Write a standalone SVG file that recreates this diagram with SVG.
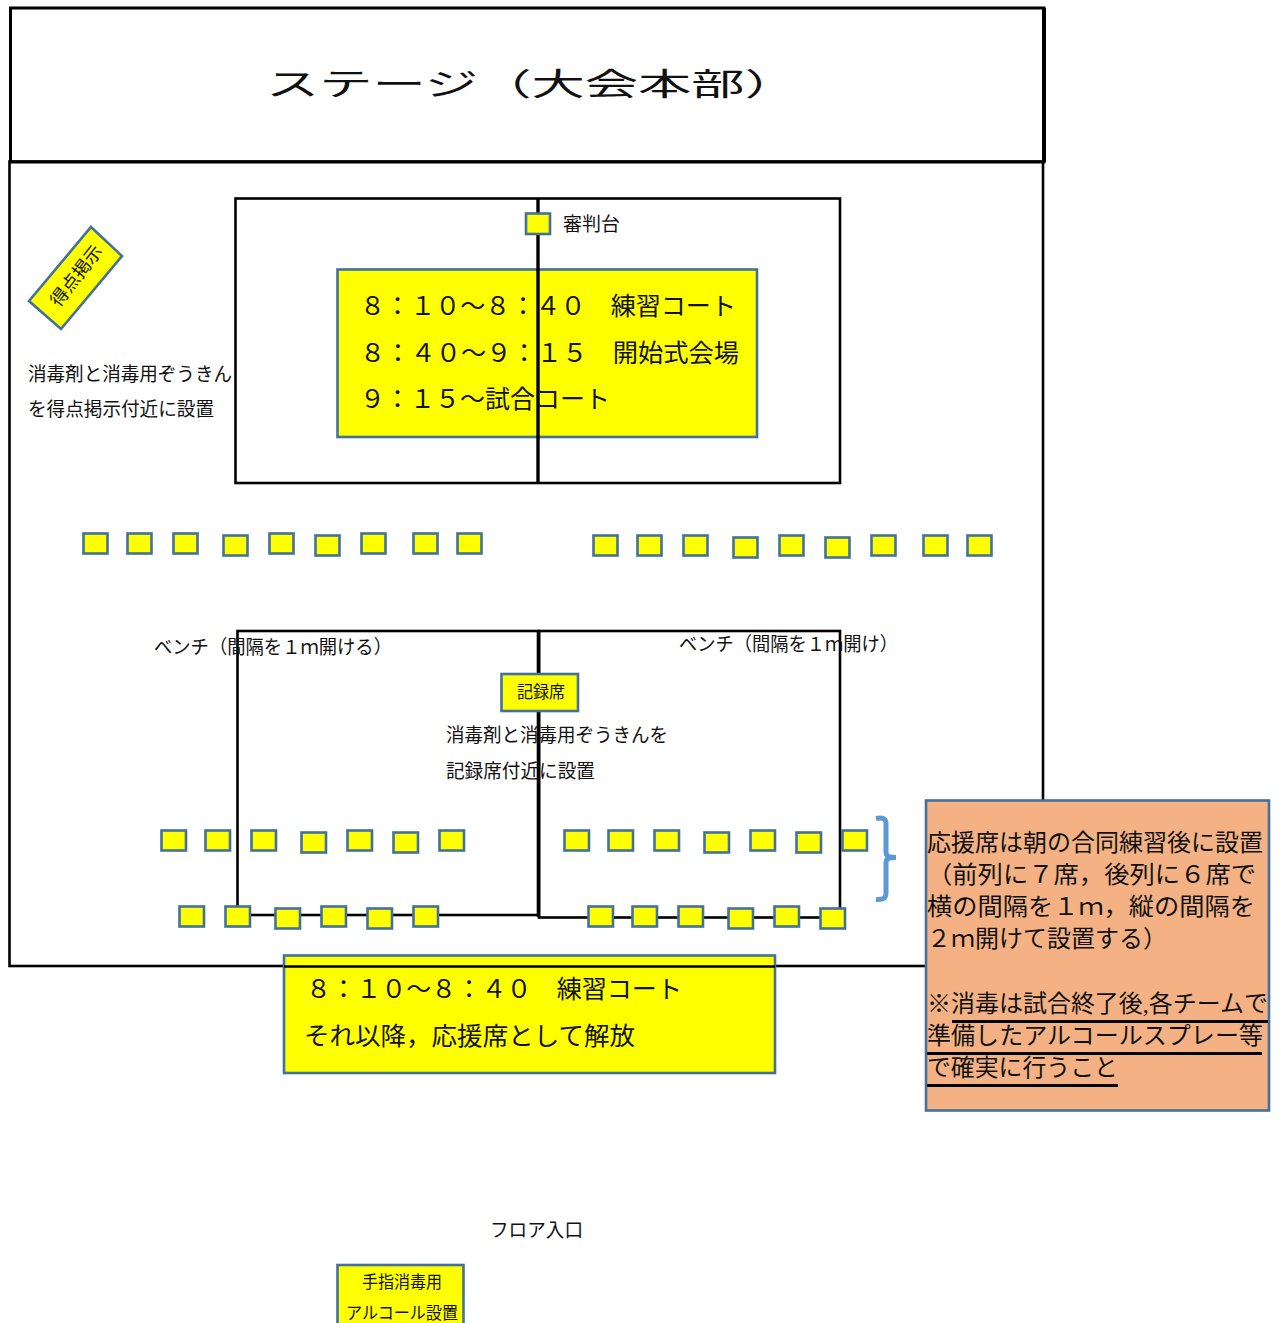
<svg xmlns="http://www.w3.org/2000/svg" width="1282" height="1323" viewBox="0 0 1282 1323">
<style>
text{font-family:"Liberation Serif","Noto Sans CJK JP",serif;fill:#111}
.ln{fill:none;stroke:#000;stroke-width:2.6}
.th{fill:none;stroke:#000;stroke-width:3}
.y{fill:#ff0;stroke:#41719c;stroke-width:2.6}
.o{fill:#f4b183;stroke:#41719c;stroke-width:2.6}
.s{font-size:19px}
.m{font-size:25px}
.l{font-size:24px}
</style>
<rect width="1282" height="1323" fill="#fff"/>
<g id="hall"><rect class="ln" x="9.500" y="161.500" width="1033.500" height="804.500"/></g>
<g id="stage"><rect class="th" x="10.500" y="8" width="1033.500" height="154"/>
<path d="M1044 8V162" stroke="#000" stroke-width="4" fill="none"/>
<text x="266" y="95" font-size="31" textLength="532" lengthAdjust="spacingAndGlyphs">ステージ（大会本部）</text></g>
<g id="court-top"><rect class="ln" x="235.500" y="198.500" width="604.500" height="284.500"/></g>
<g id="court-bottom-left"><rect class="ln" x="237.500" y="631" width="301" height="284"/></g>
<g id="court-bottom-right"><rect class="ln" x="539" y="631" width="301" height="286.500"/></g>
<g id="schedule-top"><rect class="y" x="337.500" y="269.500" width="419.500" height="167.500"/>
<text class="m" x="360" y="315" textLength="376" lengthAdjust="spacingAndGlyphs">８：１０～８：４０　練習コート</text>
<text class="m" x="360" y="362" textLength="379" lengthAdjust="spacingAndGlyphs">８：４０～９：１５　開始式会場</text>
<text class="m" x="360" y="408" textLength="250" lengthAdjust="spacingAndGlyphs">９：１５～試合コート</text></g>
<g id="connectors">
<line x1="538" y1="198" x2="538" y2="483" stroke="#000" stroke-width="3.400"/>
<line x1="538.500" y1="631" x2="538.500" y2="917" stroke="#000" stroke-width="3.600"/>
<path d="M876 818.500C884 817 886 819 886 824V852C886 856 888 857.500 896 857.500M896 857.500C888 857.500 886 859 886 863V893C886 898 884 900 876 899.500" fill="none" stroke="#5b9bd5" stroke-width="5"/>
</g>
<g id="referee"><rect class="y" x="526" y="213.500" width="24" height="20.500"/>
<text class="s" x="563" y="231" textLength="57" lengthAdjust="spacingAndGlyphs">審判台</text></g>
<g id="score-board"><polygon class="y" points="91,227 122,256 61,329 29,301"/>
<text font-size="18" transform="translate(59,308) rotate(-52)" textLength="72" lengthAdjust="spacingAndGlyphs">得点掲示</text></g>
<g id="note-score"><text class="s" x="28" y="381" textLength="204" lengthAdjust="spacingAndGlyphs">消毒剤と消毒用ぞうきん</text>
<text class="s" x="28" y="416" textLength="186" lengthAdjust="spacingAndGlyphs">を得点掲示付近に設置</text></g>
<g id="benches-upper-left">
<rect class="y" x="83.500" y="533.500" width="24" height="20"/><rect class="y" x="127.500" y="533.500" width="24" height="20"/><rect class="y" x="173.500" y="533.500" width="24" height="20"/><rect class="y" x="223.500" y="535.500" width="24" height="20"/><rect class="y" x="269.500" y="533.500" width="24" height="20"/><rect class="y" x="315.500" y="535.500" width="24" height="20"/><rect class="y" x="361.500" y="533.500" width="24" height="20"/><rect class="y" x="413.500" y="533.500" width="24" height="20"/><rect class="y" x="457.500" y="533.500" width="24" height="20"/>
</g>
<g id="benches-upper-right">
<rect class="y" x="593.500" y="535.500" width="24" height="20"/><rect class="y" x="637.500" y="535.500" width="24" height="20"/><rect class="y" x="683.500" y="535.500" width="24" height="20"/><rect class="y" x="733.500" y="537.500" width="24" height="20"/><rect class="y" x="779.500" y="535.500" width="24" height="20"/><rect class="y" x="825.500" y="537.500" width="24" height="20"/><rect class="y" x="871.500" y="535.500" width="24" height="20"/><rect class="y" x="923.500" y="535.500" width="24" height="20"/><rect class="y" x="967.500" y="535.500" width="24" height="20"/>
</g>
<g id="bench-label-left"><text class="s" x="154" y="654" textLength="238" lengthAdjust="spacingAndGlyphs">ベンチ（間隔を１ｍ開ける）</text></g>
<g id="bench-label-right"><text class="s" x="679" y="651" textLength="219" lengthAdjust="spacingAndGlyphs">ベンチ（間隔を１ｍ開け）</text></g>
<g id="record"><rect class="y" x="501.500" y="674" width="76.500" height="37"/>
<text font-size="17" x="517" y="698" textLength="48" lengthAdjust="spacingAndGlyphs">記録席</text></g>
<g id="note-record"><text class="s" x="446" y="742" textLength="222" lengthAdjust="spacingAndGlyphs">消毒剤と消毒用ぞうきんを</text>
<text class="s" x="446" y="778" textLength="149" lengthAdjust="spacingAndGlyphs">記録席付近に設置</text></g>
<g id="seats-front-left">
<rect class="y" x="161.500" y="830.500" width="24.500" height="20"/><rect class="y" x="205.500" y="830.500" width="24.500" height="20"/><rect class="y" x="251.500" y="830.500" width="24.500" height="20"/><rect class="y" x="301.500" y="832.500" width="24.500" height="20"/><rect class="y" x="347.500" y="830.500" width="24.500" height="20"/><rect class="y" x="393.500" y="832.500" width="24.500" height="20"/><rect class="y" x="439.500" y="830.500" width="24.500" height="20"/>
</g>
<g id="seats-front-right">
<rect class="y" x="564.500" y="830.500" width="24.500" height="20"/><rect class="y" x="608.500" y="830.500" width="24.500" height="20"/><rect class="y" x="654.500" y="830.500" width="24.500" height="20"/><rect class="y" x="704.500" y="832.500" width="24.500" height="20"/><rect class="y" x="750.500" y="830.500" width="24.500" height="20"/><rect class="y" x="796.500" y="832.500" width="24.500" height="20"/><rect class="y" x="842.500" y="830.500" width="24.500" height="20"/>
</g>
<g id="seats-back-left">
<rect class="y" x="179.500" y="906.500" width="24.500" height="20"/><rect class="y" x="225.500" y="906.500" width="24.500" height="20"/><rect class="y" x="275.500" y="908.500" width="24.500" height="20"/><rect class="y" x="321.500" y="906.500" width="24.500" height="20"/><rect class="y" x="367.500" y="908.500" width="24.500" height="20"/><rect class="y" x="413.500" y="906.500" width="24.500" height="20"/>
</g>
<g id="seats-back-right">
<rect class="y" x="588.500" y="906.500" width="24.500" height="20"/><rect class="y" x="632.500" y="906.500" width="24.500" height="20"/><rect class="y" x="678.500" y="906.500" width="24.500" height="20"/><rect class="y" x="728.500" y="908.500" width="24.500" height="20"/><rect class="y" x="774.500" y="906.500" width="24.500" height="20"/><rect class="y" x="820.500" y="908.500" width="24.500" height="20"/>
</g>
<g id="schedule-bottom"><rect class="y" x="284" y="955.500" width="491" height="117.500"/>
<line x1="284" y1="966.500" x2="775" y2="966.500" stroke="#000" stroke-width="2.600"/>
<text class="m" x="306" y="998" textLength="376" lengthAdjust="spacingAndGlyphs">８：１０～８：４０　練習コート</text>
<text class="m" x="304" y="1045" textLength="331" lengthAdjust="spacingAndGlyphs">それ以降，応援席として解放</text></g>
<g id="note-seats"><rect class="o" x="926" y="800.500" width="343" height="310"/>
<text class="l" x="927" y="851" textLength="336" lengthAdjust="spacingAndGlyphs">応援席は朝の合同練習後に設置</text>
<text class="l" x="927" y="883" textLength="329" lengthAdjust="spacingAndGlyphs">（前列に７席，後列に６席で</text>
<text class="l" x="927" y="915" textLength="328" lengthAdjust="spacingAndGlyphs">横の間隔を１ｍ，縦の間隔を</text>
<text class="l" x="927" y="947" textLength="240" lengthAdjust="spacingAndGlyphs">２ｍ開けて設置する）</text>
<text class="l" x="927" y="1012" textLength="341" lengthAdjust="spacingAndGlyphs">※消毒は試合終了後,各チームで</text>
<text class="l" x="927" y="1044" textLength="336" lengthAdjust="spacingAndGlyphs">準備したアルコールスプレー等</text>
<text class="l" x="927" y="1076" textLength="191" lengthAdjust="spacingAndGlyphs">で確実に行うこと</text>
<path d="M952 1021.500H1268M927 1053.500H1262M927 1085.500H1118" fill="none" stroke="#000" stroke-width="2.800"/></g>
<g id="entrance"><text class="s" x="490" y="1237" textLength="93" lengthAdjust="spacingAndGlyphs">フロア入口</text></g>
<g id="sanitizer"><rect class="y" x="337.500" y="1265" width="126" height="70"/>
<text font-size="17" x="362" y="1288" textLength="80" lengthAdjust="spacingAndGlyphs">手指消毒用</text>
<text font-size="17" x="346" y="1319" textLength="112" lengthAdjust="spacingAndGlyphs">アルコール設置</text></g>
</svg>
